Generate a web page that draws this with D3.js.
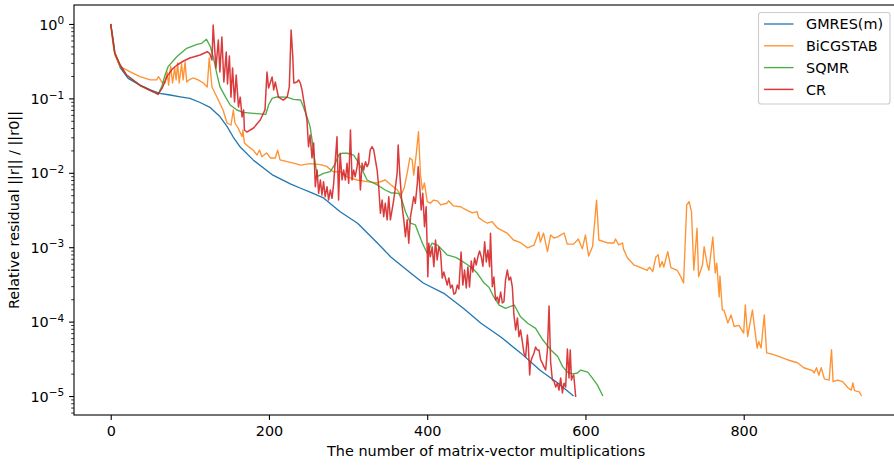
<!DOCTYPE html>
<html>
<head>
<meta charset="utf-8">
<script src="https://cdn.jsdelivr.net/npm/d3@7"></script>
<style>
  body { margin: 0; background: #fff; }
  svg { display: block; }
  text { font-family: "DejaVu Sans", sans-serif; fill: #000; }
</style>
</head>
<body>
<svg id="chart" width="894" height="467"></svg>
<script>
// Convergence histories: [matrix-vector multiplications, relative residual]
const gmres = [[0,1.0],[3,0.61],[5,0.41],[12,0.26],[22,0.186],[37,0.151],[50,0.130],[62,0.117],[75,0.111],[88,0.105],[100,0.100],[113,0.088],[126,0.075],[138,0.057],[147,0.042],[155,0.030],[164,0.022],[180,0.0149],[205,0.0093],[227,0.0071],[240,0.0062],[252,0.0055],[269,0.0046],[290,0.0030],[312,0.0021],[337,0.00114],[354,7.4e-4],[379,4.5e-4],[395,3.3e-4],[421,2.4e-4],[446,1.5e-4],[468,9.5e-5],[493,6.2e-5],[518,3.8e-5],[543,2.2e-5],[565,1.5e-5],[585,1.0e-5]];

const bicgstab = [[0,1.0],[2.5,0.58],[5.4,0.38],[12,0.267],[20,0.241],[24,0.229],[37,0.196],[50,0.177],[58,0.177],[60.5,0.196],[64.6,0.166],[68.7,0.161],[71.3,0.226],[73.2,0.151],[75.7,0.272],[78.2,0.161],[80.8,0.256],[82.7,0.177],[84.6,0.299],[86.5,0.161],[89.6,0.29],[91.5,0.177],[94,0.309],[96,0.166],[99,0.177],[104,0.188],[110.5,0.177],[117,0.161],[122,0.142],[124.5,0.349],[128,0.142],[134,0.105],[142,0.0698],[147,0.0467],[152,0.0439],[155,0.0698],[157,0.0467],[161,0.040],[166,0.0306],[167,0.0376],[169,0.0252],[174,0.0225],[180,0.0202],[185,0.0173],[188,0.0202],[191,0.0164],[197,0.0185],[202,0.0158],[208,0.0158],[211,0.0202],[214,0.0149],[223,0.0141],[231,0.0135],[240,0.0127],[252,0.0133],[265,0.0129],[273,0.0122],[281,0.0103],[290,0.0104],[299,0.0088],[311,0.0080],[324,0.0076],[337,0.0073],[347,0.0080],[354,0.0069],[362,0.0059],[367,0.0050],[371,0.0063],[375,0.0103],[378,0.0158],[381,0.0149],[383,0.0093],[386,0.0173],[389,0.0357],[391.5,0.0093],[394,0.0059],[396.5,0.0073],[400,0.0041],[404,0.0039],[408,0.0043],[413,0.0042],[417,0.0037],[425,0.0039],[427,0.0042],[433,0.0036],[442,0.0035],[451,0.0031],[457,0.0029],[463,0.0030],[465,0.0025],[471,0.00225],[476,0.0021],[482,0.0022],[489,0.0018],[501,0.00155],[509,0.00125],[518,0.00115],[527,9.8e-4],[535,1.07e-3],[541,1.6e-3],[543,1.17e-3],[547,1.55e-3],[552,8.7e-4],[556,1.46e-3],[560,1.33e-3],[565,1.38e-3],[573,1.55e-3],[577,1.10e-3],[585,1.10e-3],[591,1.29e-3],[596,9.5e-4],[600,1.46e-3],[604,7.6e-4],[609,1.02e-3],[614,4.3e-3],[617,1.25e-3],[628,1.14e-3],[636,1.14e-3],[638,1.29e-3],[642,1.07e-3],[647,1.14e-3],[648,9.5e-4],[653,7.2e-4],[661,5.8e-4],[670,5.3e-4],[678,4.9e-4],[681,5.4e-4],[685,4.7e-4],[689,7.4e-4],[692,7.9e-4],[694,5.4e-4],[697,6.4e-4],[699,5.4e-4],[704,8.7e-4],[708,5.3e-4],[716,4.9e-4],[721,3.9e-4],[724,3.3e-4],[728,3.7e-3],[731,4.1e-3],[734,3.0e-3],[737,4.9e-4],[741,1.8e-3],[743,4.0e-4],[748,5.8e-4],[750,1.02e-3],[754,5.8e-4],[756,4.9e-4],[761,1.37e-3],[764,4.5e-4],[766,6.1e-4],[769,2.14e-4],[770,4.1e-4],[773,1.43e-4],[775,1.43e-4],[780,9.6e-5],[784,1.23e-4],[788,8.6e-5],[794,8.9e-5],[800,7.0e-5],[802,1.67e-4],[805,6.3e-5],[811,1.43e-4],[817,4.4e-5],[819,5.4e-5],[822,4.4e-5],[826,1.23e-4],[829,3.8e-5],[838,3.6e-5],[856,3.05e-5],[868,2.8e-5],[876,2.4e-5],[887,2.2e-5],[889,2.04e-5],[892,2.4e-5],[895,1.9e-5],[898,2.4e-5],[902,1.7e-5],[908,1.64e-5],[911,4.2e-5],[913,1.56e-5],[919,1.64e-5],[925,1.56e-5],[932,1.28e-5],[936,1.2e-5],[938,1.5e-5],[940,1.18e-5],[946,1.14e-5],[949,1.0e-5]];

const sqmr = [[0,1.0],[5.4,0.408],[11.8,0.281],[20,0.206],[37,0.151],[53.5,0.123],[60,0.114],[64.5,0.144],[68.7,0.206],[72.5,0.267],[83.5,0.363],[96,0.471],[109,0.533],[115,0.55],[121,0.622],[126,0.495],[129.5,0.363],[134,0.217],[138,0.144],[145,0.105],[151,0.0815],[159.5,0.0698],[167.5,0.065],[180,0.063],[196,0.0611],[199.5,0.0815],[204,0.100],[210,0.105],[223,0.104],[231,0.097],[240,0.095],[243.5,0.077],[248,0.0568],[252,0.0417],[254.5,0.0276],[256.5,0.0185],[261,0.0089],[269,0.0098],[277.5,0.0104],[284,0.0134],[288,0.0173],[292.5,0.0183],[299,0.0183],[307,0.0173],[311,0.0149],[318,0.0109],[324,0.0080],[337,0.00686],[347,0.00587],[354,0.0054],[364,0.0053],[368,0.0043],[372.5,0.0030],[379,0.0021],[385,0.0020],[389,0.00154],[394,0.00113],[400,8.3e-4],[406,1.13e-3],[413,1.07e-3],[419,9.2e-4],[425,7.9e-4],[436,7.3e-4],[442,6.7e-4],[451,5.8e-4],[457,5.2e-4],[463,4.5e-4],[472,3.3e-4],[478,2.9e-4],[484,2.16e-4],[491,1.67e-4],[499,1.51e-4],[510,1.67e-4],[518,1.16e-4],[527,9.5e-5],[537,8.1e-5],[546,5.7e-5],[556,4.2e-5],[565,3.4e-5],[571,2.5e-5],[577,2.1e-5],[584,1.98e-5],[590,2.04e-5],[594,2.23e-5],[603,2.1e-5],[609,1.73e-5],[615,1.41e-5],[622,1.0e-5]];

const cr = [[0,1.0],[5,0.408],[12,0.281],[20,0.206],[37,0.149],[54,0.122],[60,0.113],[65,0.137],[71,0.196],[78,0.249],[84,0.281],[92,0.318],[100,0.349],[113,0.383],[122,0.424],[125,0.404],[128,0.328],[129.5,0.97],[133,0.256],[136,0.61],[138,0.226],[140.5,0.669],[143,0.166],[146,0.42],[147.6,0.156],[150,0.371],[152,0.104],[154,0.256],[156.5,0.0893],[158.6,0.206],[161.5,0.0767],[163.7,0.104],[166,0.0563],[168,0.070],[169,0.0376],[172,0.0353],[180.5,0.040],[189,0.0512],[195,0.070],[197.5,0.226],[199.5,0.138],[204,0.194],[206,0.130],[208,0.166],[212,0.104],[218,0.095],[223,0.104],[225.7,0.142],[228,0.831],[230,0.383],[231.4,0.161],[235.4,0.166],[237.5,0.177],[239.6,0.161],[241.8,0.130],[243.8,0.095],[246,0.070],[248,0.0512],[250,0.0224],[252,0.0322],[254.4,0.0158],[256.5,0.0252],[258.6,0.0065],[260.8,0.0109],[262.8,0.0053],[265,0.0080],[267,0.00503],[269,0.0076],[271,0.00478],[273.4,0.0065],[275.4,0.00431],[277.6,0.00588],[279.7,0.00454],[281.8,0.00722],[286,0.0306],[288,0.00431],[290,0.0183],[292.4,0.0080],[294.4,0.0109],[296.6,0.0080],[298.7,0.0134],[300.8,0.00722],[303,0.0376],[305,0.0080],[307,0.0109],[309,0.00886],[311.4,0.0121],[313.4,0.0183],[315.6,0.00588],[317.7,0.0134],[319.7,0.0109],[322,0.0141],[324,0.0121],[326,0.0134],[328,0.0203],[330.4,0.0224],[332.4,0.0203],[334.5,0.0149],[336.7,0.0109],[338.7,0.0065],[340.9,0.00286],[343,0.00431],[345,0.00257],[347,0.00389],[349.4,0.00233],[351.4,0.00478],[353.5,0.00233],[357.7,0.00431],[362,0.00985],[363.3,0.0237],[365.3,0.00985],[368.3,0.0035],[370.4,0.00233],[372.5,0.00138],[374.7,0.00233],[376.7,0.00113],[378.9,0.00257],[381,0.0035],[383,0.00478],[385,0.00389],[387.5,0.00722],[388.6,0.0121],[390.3,0.00722],[392.4,0.00316],[394.4,0.0053],[396.6,0.00189],[398.7,0.0035],[400.8,4.01e-4],[402,1.13e-3],[404,7.45e-4],[406.3,1.01e-3],[408.4,5.47e-4],[410.5,1.25e-3],[412.6,6.73e-4],[414.7,1.01e-3],[416.8,8.62e-4],[419,3.86e-4],[421,4.64e-4],[423,3.86e-4],[425.3,3.1e-4],[427.3,3.86e-4],[429.5,2.83e-4],[431.6,3.1e-4],[433.7,2.35e-4],[435.8,2.42e-4],[438,3.1e-4],[440,2.74e-4],[442.8,8.62e-4],[445,3.1e-4],[447.2,4.94e-4],[449.4,2.83e-4],[451.4,5.42e-4],[453.5,2.92e-4],[455.7,6.52e-4],[457.7,4.64e-4],[459.9,7.15e-4],[462,5.77e-4],[464,7.38e-4],[466.2,8.89e-4],[468.3,7.45e-4],[470.4,5.54e-4],[472.6,1.18e-3],[474.7,6.33e-4],[476.7,9.17e-4],[478.8,5.47e-4],[480,1.54e-3],[482.3,2.95e-4],[484.3,3.97e-4],[486.4,1.95e-4],[488.6,2.14e-4],[490.6,1.78e-4],[492.8,2.5e-4],[495,1.78e-4],[497,1.85e-4],[499,3.62e-4],[501.3,4.94e-4],[503.3,3.62e-4],[505.4,3.97e-4],[507.6,2.92e-4],[509.6,1.23e-4],[511.8,7.71e-5],[514,1.12e-4],[516,6.27e-5],[518,7.71e-5],[520.3,5.32e-5],[522.3,3.78e-5],[524.4,3.34e-5],[526.6,6.61e-5],[527.8,4.85e-5],[529.5,1.92e-5],[530.7,2.86e-5],[532.9,3.34e-5],[535,3.78e-5],[537,4.55e-5],[539.2,4.15e-5],[541.3,4.15e-5],[543.4,3.05e-5],[545.6,2.77e-5],[547.6,2.46e-5],[549.7,2.24e-5],[551.9,4.15e-5],[554,1.62e-4],[556,2.86e-5],[558.2,1.64e-5],[560.2,1.59e-5],[562.4,1.32e-5],[564.6,1.49e-5],[566.6,1.20e-5],[568.7,1.75e-5],[570.9,1.10e-5],[572.9,1.49e-5],[575,1.32e-5],[577.2,4.28e-5],[579.2,1.75e-5],[580.8,4.15e-5],[582.3,1.64e-5],[583.5,1.80e-5],[585.2,1.92e-5],[587.7,9.7e-6]];

const seriesNames = ["GMRES(m)", "BiCGSTAB", "SQMR", "CR"];
const xTickValues = [0, 200, 400, 600, 800];
const yTickExponents = [0, -1, -2, -3, -4, -5];

// ---- layout ----
const svg = d3.select("#chart");
const plot = { left: 74, top: 5, right: 898.3, bottom: 415 };
const FONT = 14.4;

const colors = ["#1f77b4", "#ff7f0e", "#2ca02c", "#d62728"];
const opac = [1, 0.85, 0.85, 0.9];
const widths = [1.3, 1.35, 1.35, 1.5];

const x = d3.scaleLinear().domain([-46.4, 995.4]).range([plot.left, plot.right]);
const y = d3.scaleLog().domain([Math.pow(10, -5.255), Math.pow(10, 0.255)]).range([plot.bottom, plot.top]);

svg.append("defs").append("clipPath").attr("id", "plotclip")
  .append("rect").attr("x", plot.left).attr("y", plot.top)
  .attr("width", plot.right - plot.left).attr("height", plot.bottom - plot.top);

// ---- series ----
const line = d3.line().x(d => x(d[0])).y(d => y(d[1]));
const allSeries = [gmres, bicgstab, sqmr, cr];
const lines = svg.append("g").attr("clip-path", "url(#plotclip)");
allSeries.forEach((s, i) => {
  lines.append("path")
    .datum(s)
    .attr("d", line)
    .attr("fill", "none")
    .attr("stroke", colors[i])
    .attr("stroke-opacity", opac[i])
    .attr("stroke-width", widths[i])
    .attr("stroke-linejoin", "round");
});

// ---- axes ----
const xAxis = d3.axisBottom(x).tickValues(xTickValues).tickSize(4.9).tickPadding(6.3)
  .tickFormat(d3.format("d"));
const gx = svg.append("g").attr("transform", `translate(0,${plot.bottom})`).call(xAxis);
gx.select(".domain").remove();
gx.selectAll("line").attr("stroke", "#000").attr("stroke-width", 1.1);
gx.selectAll("text").attr("font-size", FONT).attr("font-family", "DejaVu Sans");

const majorVals = yTickExponents.map(e => Math.pow(10, e));
const minorVals = [];
for (let e = -6; e <= 0; e++) {
  for (let m = 2; m <= 9; m++) {
    const v = m * Math.pow(10, e);
    if (v >= y.domain()[0] && v <= y.domain()[1]) minorVals.push(v);
  }
}
const gyMinor = svg.append("g").attr("transform", `translate(${plot.left},0)`)
  .call(d3.axisLeft(y).tickValues(minorVals).tickSize(2.8).tickFormat(""));
gyMinor.select(".domain").remove();
gyMinor.selectAll("line").attr("stroke", "#000").attr("stroke-width", 0.8);

const gy = svg.append("g").attr("transform", `translate(${plot.left},0)`)
  .call(d3.axisLeft(y).tickValues(majorVals).tickSize(4.9).tickPadding(4.9).tickFormat(""));
gy.select(".domain").remove();
gy.selectAll("line").attr("stroke", "#000").attr("stroke-width", 1.1);
gy.selectAll(".tick").each(function (d) {
  const e = Math.round(Math.log10(d));
  const t = d3.select(this).select("text")
    .attr("font-size", FONT).attr("font-family", "DejaVu Sans")
    .attr("dy", "0.36em");
  t.text(null);
  t.append("tspan").text("10");
  t.append("tspan").attr("dy", -5.5).attr("font-size", 10.5)
    .text(e < 0 ? "\u2212" + Math.abs(e) : String(e));
});

// frame
svg.append("rect")
  .attr("x", plot.left).attr("y", plot.top)
  .attr("width", plot.right - plot.left).attr("height", plot.bottom - plot.top)
  .attr("fill", "none").attr("stroke", "#000").attr("stroke-width", 1.1);

// axis titles
svg.append("text")
  .attr("x", (plot.left + plot.right) / 2).attr("y", 456)
  .attr("text-anchor", "middle").attr("font-size", FONT)
  .text("The number of matrix-vector multiplications");

svg.append("text")
  .attr("transform", `translate(18.5,${(plot.top + plot.bottom) / 2}) rotate(-90)`)
  .attr("text-anchor", "middle").attr("font-size", FONT)
  .text("Relative residual ||r|| / ||r0||");

// ---- legend ----
const leg = svg.append("g");
leg.append("rect")
  .attr("x", 758.5).attr("y", 12.5).attr("width", 131.5).attr("height", 91.5)
  .attr("rx", 2.8).attr("ry", 2.8)
  .attr("fill", "#fff").attr("fill-opacity", 0.8)
  .attr("stroke", "#cccccc").attr("stroke-width", 1.1);
seriesNames.forEach((name, i) => {
  const ly = 24 + i * 21.8;
  leg.append("line")
    .attr("x1", 764).attr("x2", 793.5).attr("y1", ly).attr("y2", ly)
    .attr("stroke", colors[i]).attr("stroke-opacity", opac[i]).attr("stroke-width", widths[i]);
  leg.append("text")
    .attr("x", 806).attr("y", ly + 5.2)
    .attr("font-size", FONT)
    .text(name);
});
</script>
</body>
</html>
